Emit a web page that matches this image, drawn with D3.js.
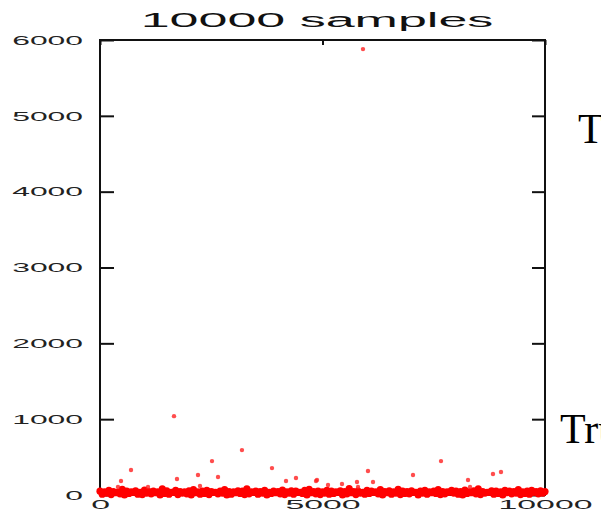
<!DOCTYPE html>
<html>
<head>
<meta charset="utf-8">
<script src="https://cdn.jsdelivr.net/npm/d3@7"></script>
<style>
    body { margin: 0; background: white; }
    svg  { display: block; }
</style>
</head>
<body>
<div id="chart"></div>
<script>

// Chart values
//
var chartTitle  = '10000 samples';
var sideLabels  = ['T', 'Tru'];
var sideValues  = [4830, 870];

var xTicks      = [0, 5000, 10000];
var yTicks      = [0, 1000, 2000, 3000, 4000, 5000, 6000];

// Samples standing clear of the bottom band [sample, value]
//
var outliers = [
    [5910, 5880], [1663, 1040], [3190, 592], [2517, 447], [697, 329],
    [2202, 263], [2652, 237], [1730, 211], [472, 184], [404, 105],
    [2247, 118], [1079, 105], [3865, 355], [6022, 316], [4180, 184],
    [4404, 224], [4854, 184], [5438, 145], [5775, 171], [5798, 105],
    [6135, 171], [5124, 132], [7663, 447], [7034, 263], [9011, 303],
    [8831, 276], [8270, 197], [8315, 105], [4876, 197]
];

// Bottom band, one value every 100 samples
//
var bandStep   = 100;
var bandUpper  = [50,40,60,45,35,75,50,40,55,35, 65,45,50,40,80,55,35,60,45,40,
                  55,70,40,50,60,45,35,50,70,45, 40,55,50,80,40,50,45,60,35,50,
                  45,65,40,55,50,35,60,75,45,50, 40,60,50,40,55,45,85,45,50,35,
                  60,50,40,70,45,55,40,75,50,45, 55,35,50,60,40,50,70,45,40,60,
                  50,45,65,40,55,80,45,35,55,50, 40,60,50,45,70,40,50,60,45,55,45];
var bandLower  = [10,25,5,30,15,0,20,35,10,5, 25,15,30,0,20,10,35,5,25,15,
                  0,30,10,20,5,35,15,25,0,10, 30,20,5,15,35,10,25,0,20,30,
                  15,5,25,10,35,20,0,30,15,5, 25,10,20,35,0,15,30,5,25,10,
                  20,35,15,0,30,10,25,5,20,15, 35,0,25,10,30,20,5,15,35,25,
                  10,0,20,30,15,5,25,35,10,20, 0,30,15,25,5,20,10,35,15,25];

// Layout
//
var svg_width  = 601;
var svg_height = 520;
var x_box_min  = 100;
var x_box_max  = 545;
var y_box_min  = 40;
var y_box_max  = 495;

var svg = d3.select('#chart').append('svg')
    .attr('width', svg_width)
    .attr('height', svg_height)
    .attr('viewBox', `0 0 ${svg_width} ${svg_height}`);

var x = d3.scaleLinear().domain([0, 10000]).range([x_box_min, x_box_max]);
var y = d3.scaleLinear().domain([0, 6000]).range([y_box_max, y_box_min]);

// Stretch text horizontally like the original plot fonts
//
function stretch(selection, factor) {
    selection.each(function() {
        let len = this.getComputedTextLength();
        d3.select(this)
            .attr('textLength', len * factor)
            .attr('lengthAdjust', 'spacingAndGlyphs');
    });
}

// Frame
//
svg.append('rect')
    .attr('x', x_box_min)
    .attr('y', y_box_min)
    .attr('width', x_box_max - x_box_min)
    .attr('height', y_box_max - y_box_min)
    .attr('fill', 'none')
    .attr('stroke', '#111')
    .attr('stroke-width', 2);

// Axes
//
var axisFont = '"Liberation Sans", Arial, sans-serif';
var fmt      = d3.format('d');

var yLeft = svg.append('g')
    .attr('transform', `translate(${x_box_min},0)`)
    .call(d3.axisLeft(y).tickValues(yTicks).tickFormat(fmt).tickSizeInner(-14).tickSizeOuter(0).tickPadding(17));

var yRight = svg.append('g')
    .attr('transform', `translate(${x_box_max},0)`)
    .call(d3.axisRight(y).tickValues(yTicks).tickSizeInner(-13).tickSizeOuter(0).tickFormat(''));

var xTop = svg.append('g')
    .attr('transform', `translate(0,${y_box_min})`)
    .call(d3.axisTop(x).tickValues(xTicks).tickSizeInner(-5).tickSizeOuter(0).tickFormat(''));

var xBottom = svg.append('g')
    .attr('transform', `translate(0,${y_box_max})`)
    .call(d3.axisBottom(x).tickValues(xTicks).tickFormat(fmt).tickSizeInner(-5).tickSizeOuter(0).tickPadding(5));

[yLeft, yRight, xTop, xBottom].forEach(g => {
    g.select('.domain').remove();
    g.selectAll('.tick line').attr('stroke', '#111').attr('stroke-width', 2);
});

yLeft.selectAll('.tick text')
    .attr('fill', '#222')
    .style('font-family', axisFont)
    .style('font-size', '13px')
    .call(stretch, 2.45);

xBottom.selectAll('.tick text')
    .attr('fill', '#222')
    .style('font-family', axisFont)
    .style('font-size', '13px')
    .call(stretch, 2.6);

// Title
//
svg.append('text')
    .attr('x', 317)
    .attr('y', 27)
    .attr('text-anchor', 'middle')
    .attr('fill', '#111')
    .style('font-family', axisFont)
    .style('font-size', '20px')
    .text(chartTitle)
    .call(stretch, 2.6);

// Samples
//
var points = svg.append('g').attr('class', 'samples');

var bandPoints = bandUpper.map((v, i) => [i * bandStep, v])
    .concat(bandLower.map((v, i) => [i * bandStep + bandStep / 2, v]));

points.selectAll('circle.band')
    .data(bandPoints)
    .enter().append('circle')
    .attr('class', 'band')
    .attr('cx', d => x(d[0]))
    .attr('cy', d => y(d[1]))
    .attr('r', 3.6)
    .attr('fill', '#ff0000');

points.selectAll('circle.outlier')
    .data(outliers)
    .enter().append('circle')
    .attr('class', 'outlier')
    .attr('cx', d => x(d[0]))
    .attr('cy', d => y(d[1]))
    .attr('r', 2.2)
    .attr('fill', '#ff2020')
    .attr('fill-opacity', 0.8);

// Side labels cut at the right edge
//
svg.selectAll('text.side')
    .data(sideLabels)
    .enter().append('text')
    .attr('class', 'side')
    .attr('x', (d, i) => i === 0 ? 578 : 560)
    .attr('y', (d, i) => y(sideValues[i]) + 14)
    .attr('fill', 'black')
    .style('font-family', '"Liberation Serif", "Times New Roman", serif')
    .style('font-size', '42px')
    .text(d => d);

</script>
</body>
</html>
